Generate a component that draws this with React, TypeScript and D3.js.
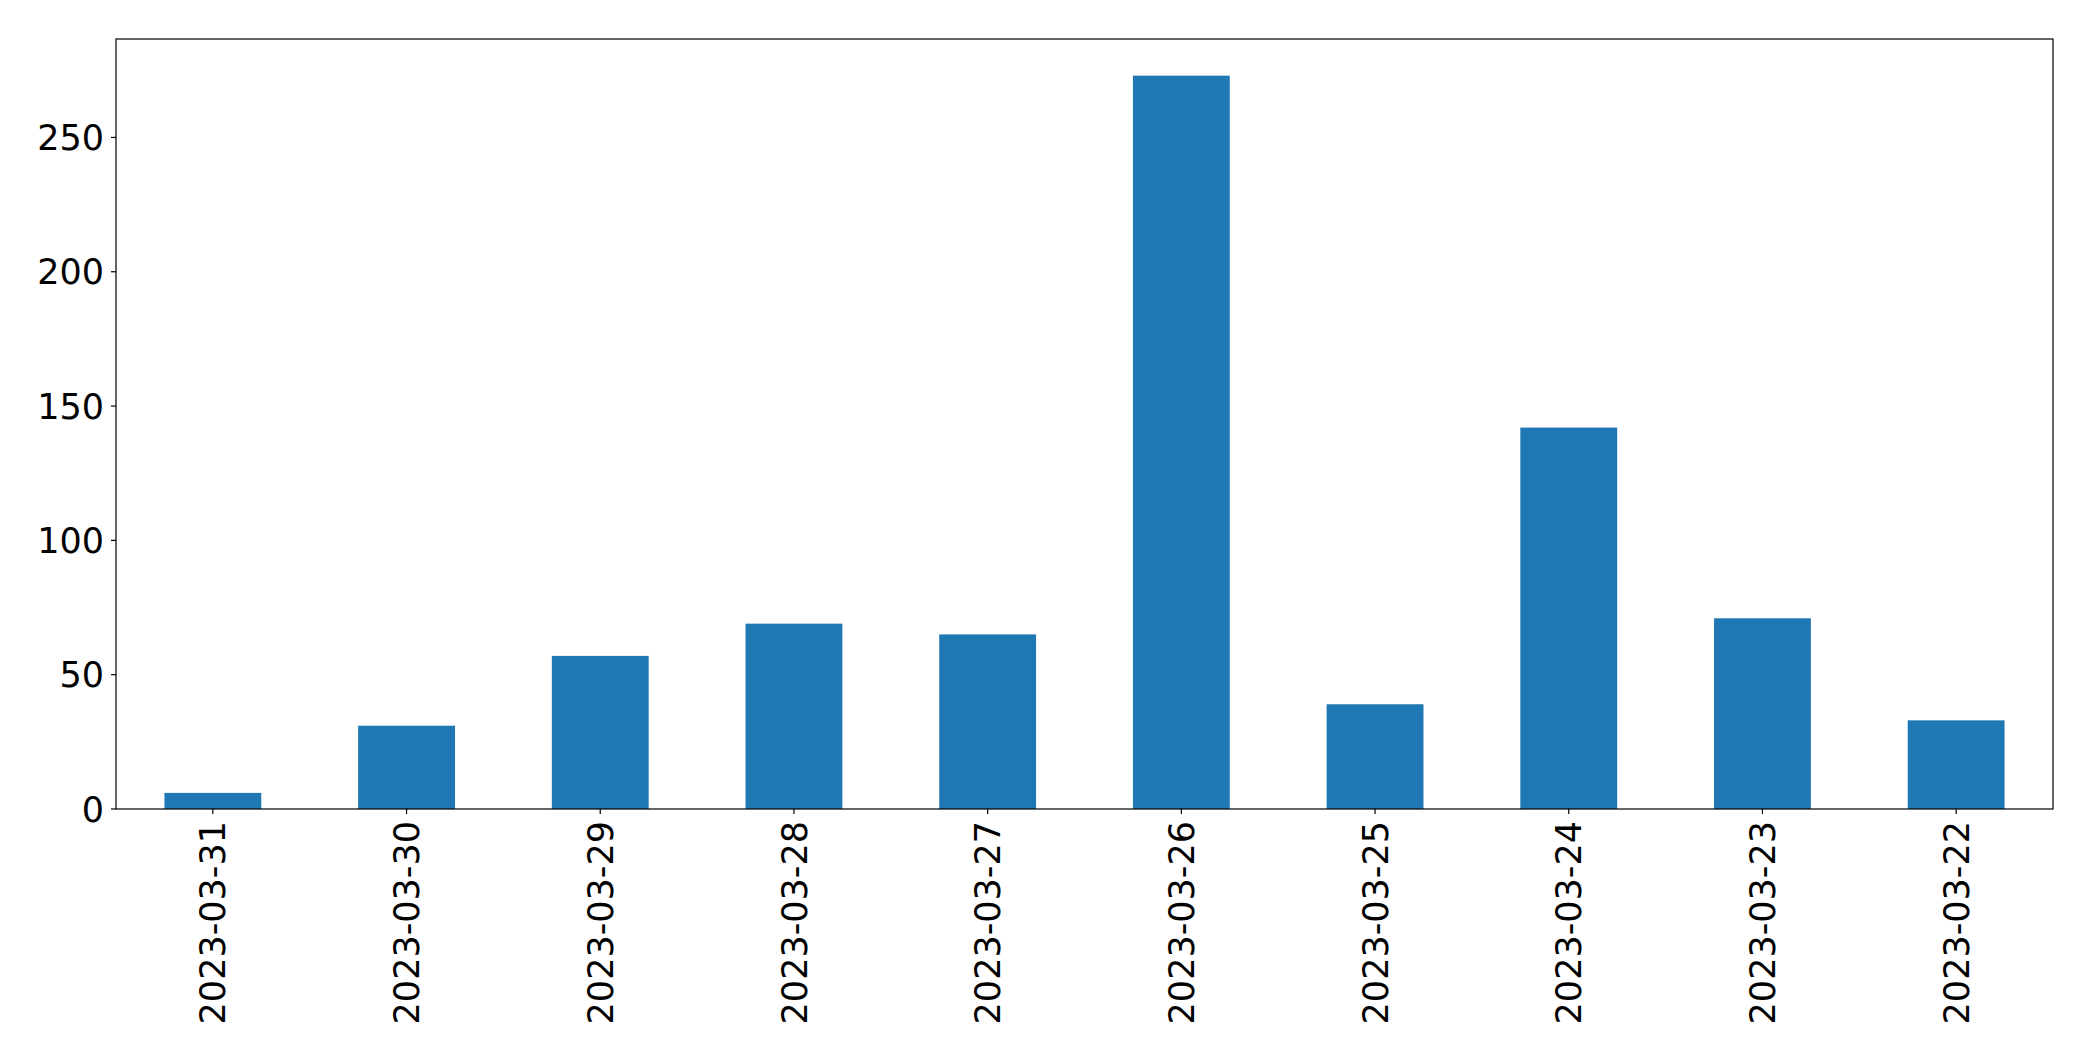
import React from "react";
import * as d3 from "d3";

const categories = [
  "2023-03-31",
  "2023-03-30",
  "2023-03-29",
  "2023-03-28",
  "2023-03-27",
  "2023-03-26",
  "2023-03-25",
  "2023-03-24",
  "2023-03-23",
  "2023-03-22",
];
const values = [6, 31, 57, 69, 65, 273, 39, 142, 71, 33];
const yTicks = [0, 50, 100, 150, 200, 250];

const W = 2093;
const H = 1061;
const margin = { left: 116, right: W - 2053, top: 39, bottom: H - 809 };
const FONT = "'DejaVu Sans', sans-serif";

export default function App() {
  const x = d3
    .scaleBand<string>()
    .domain(categories)
    .range([margin.left, W - margin.right])
    .paddingInner(0.5)
    .paddingOuter(0.25);
  const y = d3
    .scaleLinear()
    .domain([0, d3.max(values)! * 1.05])
    .range([H - margin.bottom, margin.top]);
  const bottom = H - margin.bottom;
  return (
    <svg
      width={W}
      height={H}
      style={{ position: "absolute", left: 0, top: 0, background: "#fff" }}
    >
      <rect x={0} y={0} width={W} height={H} fill="#fff" />
      {categories.map((c, i) => (
        <rect
          key={c}
          x={x(c)}
          y={y(values[i])}
          width={x.bandwidth()}
          height={bottom - y(values[i])}
          fill="#1f77b4"
        />
      ))}
      <rect
        x={margin.left}
        y={margin.top}
        width={W - margin.right - margin.left}
        height={bottom - margin.top}
        fill="none"
        stroke="#000"
        strokeWidth={1.2}
      />
      {yTicks.map((t) => (
        <g key={t}>
          <line
            x1={margin.left - 5}
            x2={margin.left}
            y1={y(t)}
            y2={y(t)}
            stroke="#000"
            strokeWidth={1.2}
          />
          <text
            x={margin.left - 12}
            y={y(t)}
            dy="0.36em"
            textAnchor="end"
            fontFamily={FONT}
            fontSize={35}
            fill="#000"
          >
            {t}
          </text>
        </g>
      ))}
      {categories.map((c) => {
        const cx = x(c)! + x.bandwidth() / 2;
        return (
          <g key={c}>
            <line
              x1={cx}
              x2={cx}
              y1={bottom}
              y2={bottom + 5}
              stroke="#000"
              strokeWidth={1.2}
            />
            <text
              transform={`translate(${cx},${bottom + 12}) rotate(-90)`}
              dy="0.36em"
              textAnchor="end"
              fontFamily={FONT}
              fontSize={35}
              fill="#000"
            >
              {c}
            </text>
          </g>
        );
      })}
    </svg>
  );
}
